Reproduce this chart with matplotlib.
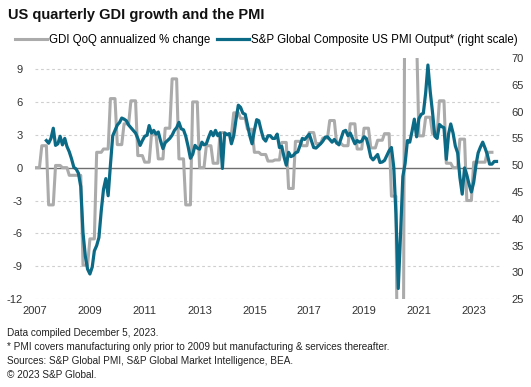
import numpy as np
import pandas as pd
import matplotlib
matplotlib.use("Agg")
import matplotlib.pyplot as plt

plt.rcParams['font.family'] = ['Liberation Sans', 'DejaVu Sans']

# GDI QoQ annualized % change, quarterly 2007Q1 - 2023Q3
gdi = [0.0, 2.0, -3.4, 0.2,
       0.0, -0.7, -0.7, -8.9,
       -6.5, 1.4, 1.7, 6.3,
       2.1, 4.0, 6.1, 1.1,
       0.5, 3.0, 0.8, 3.6,
       8.1, 0.8, -3.4, 6.0,
       0.0, 2.0, 0.4, 3.2,
       3.0, 5.0, 4.5, 3.5,
       1.4, 1.2, 0.6, 0.7,
       2.3, -1.9, 2.4, 2.0,
       3.2, 2.2, 2.7, 4.3,
       2.2, 2.0, 4.0, 1.7,
       3.6, 1.8, 2.5, 3.1,
       -2.6, -30.0, 25.0, 12.0,
       2.9, 4.6, 3.1, 6.1,
       0.4, 0.0, 2.6, -3.0,
       0.5, 0.5, 1.4]

# S&P Global Composite US PMI Output, monthly from 2007-06
pmi = [54.6, 54.1, 55.0, 56.9, 53.7, 54.0, 55.4,
       53.8, 55.0, 53.5, 52.5, 51.2, 49.6, 49.3, 48.5, 46.0, 37.4, 33.0, 30.6,
       29.7, 31.0, 34.0, 35.0, 36.5, 41.5, 45.5, 47.5, 44.3, 50.0, 55.5, 56.5,
       57.5, 58.0, 58.8, 58.6, 58.3, 57.5, 57.0, 56.5, 56.0, 55.0, 53.7, 54.6,
       55.4, 55.6, 57.4, 56.0, 56.5, 55.8, 56.2, 54.5, 53.1, 54.2, 54.6, 55.0,
       55.6, 56.5, 57.0, 58.0, 56.8, 56.6, 55.4, 53.5, 51.3, 52.0, 53.7, 53.2,
       53.0, 54.3, 53.8, 54.0, 55.2, 56.3, 55.5, 56.5, 55.5, 56.0, 49.4, 56.0,
       55.7, 55.9, 54.0, 55.5, 58.5, 61.2, 60.8, 59.7, 59.5, 57.5, 55.5, 54.0,
       56.5, 58.5, 58.3, 56.5, 55.0, 54.5, 55.5, 55.5, 55.0, 55.0, 55.8, 53.3,
       53.5, 51.5, 50.0, 52.4, 51.6, 51.8, 52.3, 52.5, 53.7, 55.0, 54.8, 55.3,
       55.8, 54.5, 53.3, 53.2, 53.6, 54.0, 54.5, 55.2, 55.3, 54.8, 54.3, 54.8,
       54.2, 53.8, 55.0, 56.3, 56.5, 55.5, 56.0, 55.0, 54.0, 54.6, 54.3, 54.5,
       55.3, 55.0, 53.5, 51.5, 51.0, 51.5, 52.0, 50.5, 50.6, 50.9, 51.8, 52.7,
       53.3, 49.6, 40.9, 27.0, 37.0, 47.9, 50.3, 54.6, 54.3, 56.3, 58.6, 55.3,
       58.7, 59.5, 59.7, 63.5, 68.7, 63.7, 59.9, 55.4, 55.0, 57.6, 57.2, 57.0,
       51.1, 55.9, 57.7, 56.0, 53.6, 52.3, 47.7, 44.6, 49.5, 48.2, 46.4, 45.0,
       46.8, 50.1, 52.3, 53.4, 54.3, 53.2, 52.0, 50.2, 50.2, 50.7, 50.7]

left_ticks = [-12, -9, -6, -3, 0, 3, 6, 9]
right_ticks = [25, 30, 35, 40, 45, 50, 55, 60, 65, 70]
year_ticks = [2007, 2009, 2011, 2013, 2015, 2017, 2019, 2021, 2023]

gray = '#ababab'
teal = '#0b6a86'

# quarterly value held for each of its three months
gdi_dates = pd.date_range('2007-01-01', periods=len(gdi) * 3, freq='MS')
gdi_monthly = np.repeat(gdi, 3)
pmi_dates = pd.date_range('2007-06-01', periods=len(pmi), freq='MS')

fig = plt.figure(figsize=(5.31, 3.87), dpi=100)
ax = fig.add_axes([0.066, 0.227, 0.876, 0.623])
ax2 = ax.twinx()

ax.plot(gdi_dates, gdi_monthly, color=gray, lw=2.2, label='GDI QoQ annualized % change')
ax.axhline(0, color='#6f6f6f', lw=1.0, zorder=1)
ax2.plot(pmi_dates, pmi, color=teal, lw=2.3,
         label='S&P Global Composite US PMI Output* (right scale)')

ax.set_ylim(-12, 10)
ax2.set_ylim(25, 70)
ax.set_xlim(pd.Timestamp('2007-01-01'), pd.Timestamp('2023-12-20'))

ax.set_yticks(left_ticks)
ax.set_yticklabels([str(t) for t in left_ticks])
ax2.set_yticks(right_ticks)
ax.set_xticks([pd.Timestamp(f'{y}-01-01') for y in year_ticks])
ax.set_xticklabels([str(y) for y in year_ticks])

for t in left_ticks:
    if t != 0:
        ax.axhline(t, color='#cfcfcf', lw=0.8, ls=(0, (2.5, 2.5)), zorder=0)

for a in (ax, ax2):
    for s in a.spines.values():
        s.set_visible(False)
    a.tick_params(length=0, labelsize=8, colors='#333333')
ax.tick_params(axis='y', pad=9)
ax.tick_params(axis='x', pad=5)
ax2.tick_params(axis='y', pad=8)

h1, l1 = ax.get_legend_handles_labels()
h2, l2 = ax2.get_legend_handles_labels()
fig.legend(h1 + h2, l1 + l2, ncol=2, loc='center left', bbox_to_anchor=(0.028, 0.897),
           frameon=False, fontsize=8.3, handlelength=2.8, handletextpad=0.15,
           columnspacing=0.6, borderaxespad=0, borderpad=0)

fig.text(0.015, 0.962, 'US quarterly GDI growth and the PMI', fontsize=10.5,
         fontweight='bold', color='#111111', va='center')

notes = ['Data compiled December 5, 2023.',
         '* PMI covers manufacturing only prior to 2009 but manufacturing & services thereafter.',
         'Sources: S&P Global PMI, S&P Global Market Intelligence, BEA.',
         '\u00a9 2023 S&P Global.']
for i, n in enumerate(notes):
    fig.text(0.013, 1 - (333 + i * 14) / 387, n, fontsize=7.2, color='#222222', va='center')

fig.savefig('out.png', dpi=100)
